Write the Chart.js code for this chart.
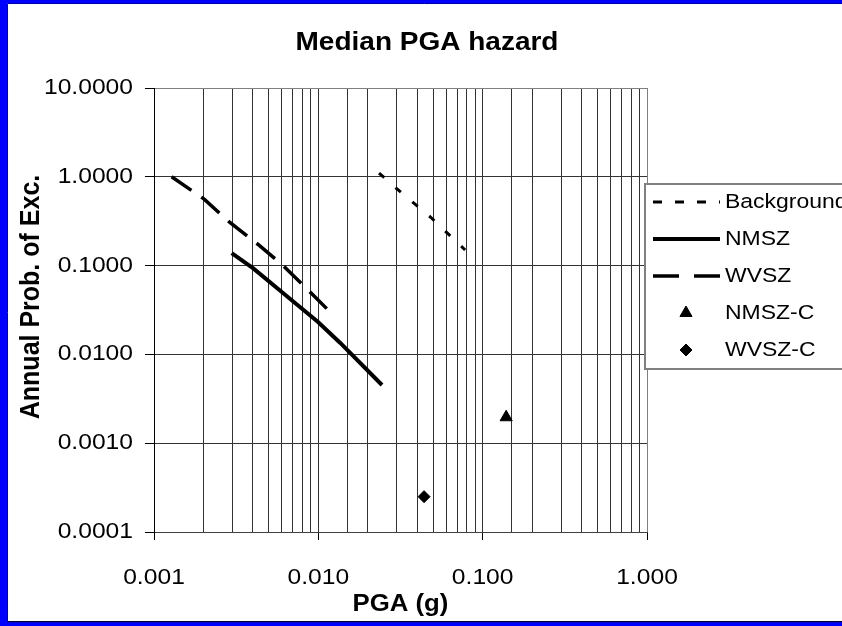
<!DOCTYPE html>
<html>
<head>
<meta charset="utf-8">
<title>Median PGA hazard</title>
<script src="https://cdn.jsdelivr.net/npm/chart.js@4.4.1/dist/chart.umd.min.js"></script>
<style>
  html, body { margin: 0; padding: 0; background: #fff; }
</style>
</head>
<body>
<canvas id="hazardChart" width="842" height="626"></canvas>
<script>
// values (PGA in g, annual probability of exceedance)
const backgroundPga = [0.0234, 0.0301, 0.0483, 0.0782];
const backgroundProb = [1.10, 0.73, 0.35, 0.150];

const nmszPga = [0.00297, 0.00402, 0.00612, 0.00996, 0.01355, 0.0244];
const nmszProb = [0.138, 0.093, 0.0488, 0.0232, 0.01355, 0.00452];

const wvszPga = [0.00128, 0.00202, 0.00287, 0.00437, 0.00607, 0.0090, 0.0113];
const wvszProb = [1.0, 0.56, 0.31, 0.169, 0.101, 0.0495, 0.0325];

const nmszCPga = [0.139];
const nmszCProb = [0.00196];

const wvszCPga = [0.044];
const wvszCProb = [0.00025];

const yTickValues = [0.0001, 0.001, 0.01, 0.1, 1, 10];

const chartTitle = "Median PGA hazard";
const xTitle = "PGA (g)";
const yTitle = "Annual Prob. of Exc.";

const FONT = "'Liberation Sans', Arial, sans-serif";
// the original picture has its text a bit stretched sideways
const STRETCH = 1.12;

function toPoints(xs, ys) {
    return xs.map((x, i) => ({ x: x, y: ys[i] }));
}

function isDecade(v) {
    const l = Math.log10(v);
    return Math.abs(l - Math.round(l)) < 1e-6;
}

function wideText(ctx, text, x, y, font, align) {
    ctx.save();
    ctx.font = font;
    ctx.textAlign = "left";
    ctx.textBaseline = "middle";
    const w = ctx.measureText(text).width * STRETCH;
    let left = x;
    if (align === "center") left = x - w / 2;
    if (align === "right") left = x - w;
    ctx.translate(left, y);
    ctx.scale(STRETCH, 1);
    ctx.fillText(text, 0, 0);
    ctx.restore();
}

// blue frame around the whole picture
const framePlugin = {
    id: "frame",
    beforeDraw(chart) {
        const ctx = chart.ctx;
        ctx.save();
        ctx.fillStyle = "#0000ff";
        ctx.fillRect(0, 0, chart.width, chart.height);
        ctx.fillStyle = "#ffffff";
        ctx.fillRect(7, 3, chart.width - 7, chart.height - 8);
        ctx.strokeStyle = "#000";
        ctx.lineWidth = 1;
        ctx.beginPath();
        ctx.moveTo(chart.width, 3.5);
        ctx.lineTo(7.5, 3.5);
        ctx.lineTo(7.5, chart.height - 4.5);
        ctx.lineTo(chart.width, chart.height - 4.5);
        ctx.stroke();
        ctx.restore();
    }
};

// tick labels, chart title and axis titles
const textPlugin = {
    id: "texts",
    afterDraw(chart) {
        const ctx = chart.ctx;
        const area = chart.chartArea;
        const xs = chart.scales.x;
        const ys = chart.scales.y;
        ctx.save();
        ctx.fillStyle = "#000";

        ys.ticks.forEach((t) => {
            wideText(ctx, Number(t.value).toFixed(4), 133, ys.getPixelForValue(t.value), "22px " + FONT, "right");
        });
        xs.ticks.forEach((t) => {
            if (!isDecade(t.value)) return;
            wideText(ctx, Number(t.value).toFixed(3), xs.getPixelForValue(t.value), 578, "22px " + FONT, "center");
        });

        wideText(ctx, chartTitle, 427, 43, "bold 25px " + FONT, "center");
        wideText(ctx, xTitle, (area.left + area.right) / 2, 605, "bold 23px " + FONT, "center");

        ctx.translate(31, (area.top + area.bottom) / 2 - 13);
        ctx.rotate(-Math.PI / 2);
        ctx.font = "bold 25px " + FONT;
        ctx.textAlign = "center";
        ctx.textBaseline = "middle";
        ctx.scale(1, STRETCH);
        ctx.fillText(yTitle, 0, 0);
        ctx.restore();
    }
};

// legend box that sits over the right edge of the plot
const legendPlugin = {
    id: "boxLegend",
    afterDraw(chart) {
        const ctx = chart.ctx;
        const boxLeft = 645, boxTop = 184, boxHeight = 185, rowGap = 37;
        ctx.save();
        ctx.fillStyle = "#fff";
        ctx.fillRect(boxLeft, boxTop, chart.width - boxLeft + 10, boxHeight);
        ctx.strokeStyle = "#808080";
        ctx.lineWidth = 2;
        ctx.strokeRect(boxLeft, boxTop, chart.width - boxLeft + 10, boxHeight);

        chart.data.datasets.forEach((ds, i) => {
            const y = boxTop + 18 + i * rowGap;
            if (ds.showLine) {
                ctx.strokeStyle = ds.borderColor;
                ctx.lineWidth = ds.borderWidth;
                ctx.setLineDash(ds.legendDash || ds.borderDash || []);
                ctx.beginPath();
                ctx.moveTo(653, y);
                ctx.lineTo(720, y);
                ctx.stroke();
                ctx.setLineDash([]);
            } else {
                ctx.fillStyle = ds.pointBackgroundColor;
                ctx.strokeStyle = ds.pointBorderColor;
                ctx.lineWidth = 1;
                Chart.helpers.drawPoint(ctx, {
                    pointStyle: ds.pointStyle,
                    radius: ds.pointRadius,
                    rotation: 0,
                    borderWidth: 1
                }, 686, y);
            }
            ctx.fillStyle = "#000";
            wideText(ctx, ds.label, 725, y, "20.5px " + FONT, "left");
        });
        ctx.restore();
    }
};

const config = {
    type: "scatter",
    data: {
        datasets: [
            {
                label: "Background",
                data: toPoints(backgroundPga, backgroundProb),
                showLine: true,
                borderColor: "#000",
                borderWidth: 3,
                borderDash: [7, 15],
                legendDash: [9, 13],
                pointRadius: 0
            },
            {
                label: "NMSZ",
                data: toPoints(nmszPga, nmszProb),
                showLine: true,
                borderColor: "#000",
                borderWidth: 4,
                pointRadius: 0
            },
            {
                label: "WVSZ",
                data: toPoints(wvszPga, wvszProb),
                showLine: true,
                borderColor: "#000",
                borderWidth: 3.5,
                borderDash: [24, 12],
                legendDash: [26, 15],
                pointRadius: 0
            },
            {
                label: "NMSZ-C",
                data: toPoints(nmszCPga, nmszCProb),
                showLine: false,
                pointStyle: "triangle",
                pointRadius: 7,
                pointBackgroundColor: "#000",
                pointBorderColor: "#000"
            },
            {
                label: "WVSZ-C",
                data: toPoints(wvszCPga, wvszCProb),
                showLine: false,
                pointStyle: "rectRot",
                pointRadius: 6,
                pointBackgroundColor: "#000",
                pointBorderColor: "#000"
            }
        ]
    },
    options: {
        responsive: false,
        animation: false,
        devicePixelRatio: 1,
        layout: {
            padding: { top: 88, right: 195, left: 0, bottom: 0 }
        },
        plugins: {
            legend: { display: false },
            title: { display: false },
            tooltip: { enabled: false }
        },
        scales: {
            x: {
                type: "logarithmic",
                min: 0.001,
                max: 1,
                afterFit: (scale) => { scale.height = 94; },
                border: { color: "#404040", width: 1 },
                grid: {
                    color: (ctx) => (ctx.tick && ctx.tick.value >= 0.999) ? "#808080" : "#333",
                    lineWidth: 1,
                    tickLength: 8,
                    tickColor: (ctx) => (ctx.tick && isDecade(ctx.tick.value)) ? "#000" : "rgba(0,0,0,0)"
                },
                ticks: { display: false, autoSkip: false }
            },
            y: {
                type: "logarithmic",
                min: 0.0001,
                max: 10,
                afterFit: (scale) => { scale.width = 154; },
                afterBuildTicks: (scale) => {
                    scale.ticks = yTickValues.map((v) => ({ value: v }));
                },
                border: { color: "#000", width: 1 },
                grid: {
                    color: (ctx) => (ctx.tick && ctx.tick.value >= 9.99) ? "#808080" : "#333",
                    lineWidth: 1,
                    tickLength: 9,
                    tickColor: "#000"
                },
                ticks: { display: false }
            }
        }
    },
    plugins: [framePlugin, textPlugin, legendPlugin]
};

document.addEventListener("DOMContentLoaded", () => {
    new Chart(document.getElementById("hazardChart"), config);
});
</script>
</body>
</html>
